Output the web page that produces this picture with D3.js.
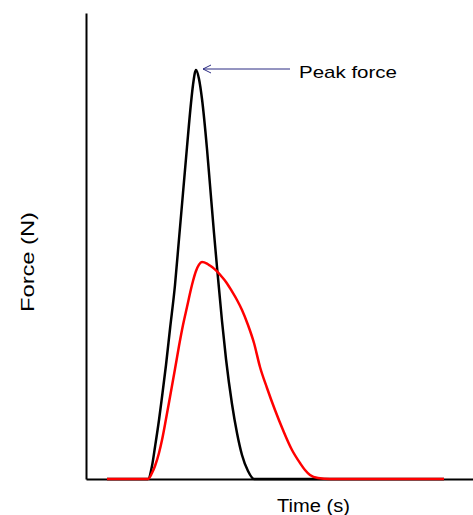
<!DOCTYPE html>
<html>
<head>
<meta charset="utf-8">
<script src="https://cdn.jsdelivr.net/npm/d3@7"></script>
<style>
  body { margin: 0; background: #fff; }
  text { font-family: "Liberation Sans", Arial, sans-serif; fill: #000; }
</style>
</head>
<body>
<svg id="chart"></svg>
<script>
// Force-time curves: stiff impact (black) vs cushioned impact (red)

const chartWidth = 473;
const chartHeight = 515;

// time samples (s), shared by both curves
const times = [0.042, 0.124, 0.132, 0.138, 0.146, 0.152, 0.160, 0.168, 0.178, 0.186,
    0.194, 0.202, 0.210, 0.214, 0.220, 0.226, 0.232, 0.242, 0.248, 0.256,
    0.262, 0.272, 0.280, 0.292, 0.302, 0.312, 0.324, 0.336, 0.348, 0.362,
    0.378, 0.394, 0.412, 0.428, 0.438, 0.448, 0.464, 0.488, 0.716];

// force (N)
const blackForce = [0, 0, 65, 160, 295, 410, 570, 750, 970, 1200,
    1430, 1660, 1880, 1970, 2045, 2000, 1900, 1650, 1470, 1230,
    1060, 790, 600, 375, 230, 120, 40, 0, 0, 0,
    0, 0, 0, 0, 0, 0, 0, 0, 0];

const redForce = [0, 0, 30, 65, 130, 195, 300, 410, 550, 665,
    770, 860, 950, 990, 1040, 1072, 1085, 1077, 1067, 1052,
    1038, 1010, 985, 938, 895, 845, 770, 680, 560, 455,
    345, 245, 145, 80, 45, 20, 5, 0, 0];

const timeDomain = [0, 0.774];
const forceDomain = [0, 2330];

const xLabel = "Time (s)";
const yLabel = "Force (N)";
const peakLabel = "Peak force";

const margin = { top: 13, right: 0, bottom: 36, left: 86 };

const svg = d3.select("#chart")
    .attr("width", chartWidth)
    .attr("height", chartHeight);

const xScale = d3.scaleLinear()
    .domain(timeDomain)
    .range([margin.left, chartWidth - margin.right]);

const yScale = d3.scaleLinear()
    .domain(forceDomain)
    .range([chartHeight - margin.bottom, margin.top]);

// bare axes, no ticks
svg.append("g")
    .attr("transform", `translate(0, ${yScale(0)})`)
    .call(d3.axisBottom(xScale).ticks(0).tickSizeOuter(0));

svg.append("g")
    .attr("transform", `translate(${xScale(0)}, 0)`)
    .call(d3.axisLeft(yScale).ticks(0).tickSizeOuter(0));

svg.selectAll(".domain")
    .attr("stroke", "#000")
    .attr("stroke-width", 2);

const line = d3.line()
    .x(d => xScale(d[0]))
    .y(d => yScale(d[1]))
    .curve(d3.curveMonotoneX);

svg.append("path")
    .datum(times.map((t, i) => [t, blackForce[i]]))
    .attr("fill", "none")
    .attr("stroke", "#000")
    .attr("stroke-width", 2.5)
    .attr("d", line);

svg.append("path")
    .datum(times.map((t, i) => [t, redForce[i]]))
    .attr("fill", "none")
    .attr("stroke", "#ff0000")
    .attr("stroke-width", 2.5)
    .attr("d", line);

// peak annotation
const peakIndex = d3.maxIndex(blackForce);
const tipX = xScale(times[peakIndex]) + 7;
const tipY = yScale(blackForce[peakIndex]) - 1;
const arrowColor = "#2b2b82";

svg.append("line")
    .attr("x1", tipX + 87)
    .attr("y1", tipY)
    .attr("x2", tipX)
    .attr("y2", tipY)
    .attr("stroke", arrowColor)
    .attr("stroke-width", 1);

svg.append("path")
    .attr("d", `M${tipX + 8},${tipY - 4}L${tipX},${tipY}L${tipX + 8},${tipY + 4}`)
    .attr("fill", "none")
    .attr("stroke", arrowColor)
    .attr("stroke-width", 1);

svg.append("text")
    .attr("x", tipX + 96)
    .attr("y", tipY + 8.5)
    .attr("font-size", "17px")
    .attr("textLength", 98)
    .attr("lengthAdjust", "spacingAndGlyphs")
    .text(peakLabel);

// axis titles
svg.append("text")
    .attr("x", 313.5)
    .attr("y", 512)
    .attr("text-anchor", "middle")
    .attr("font-size", "18px")
    .attr("textLength", 73)
    .attr("lengthAdjust", "spacingAndGlyphs")
    .text(xLabel);

svg.append("text")
    .attr("transform", "translate(34, 262) rotate(-90)")
    .attr("text-anchor", "middle")
    .attr("font-size", "18px")
    .attr("textLength", 100)
    .attr("lengthAdjust", "spacingAndGlyphs")
    .text(yLabel);
</script>
</body>
</html>
